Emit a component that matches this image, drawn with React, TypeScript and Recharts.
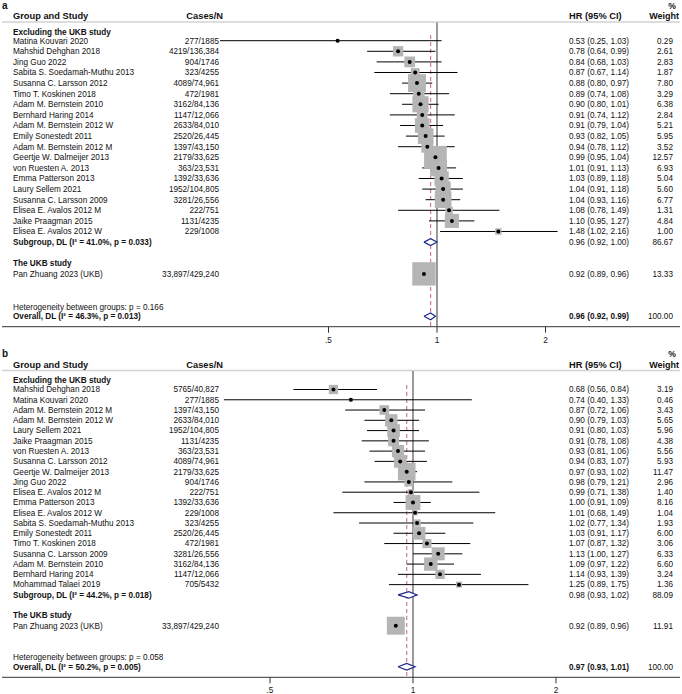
import React from 'react';
import { ScatterChart, Scatter, XAxis, YAxis, ErrorBar, ReferenceLine } from 'recharts';

type Study = { name: string; cases: string; hr: number; lo: number; hi: number; w: number };
type Pooled = { label: string; hr: number; lo: number; hi: number; w: number };

// panel a
const studiesA: Study[] = [
  { name: 'Matina Kouvari 2020', cases: '277/1885', hr: 0.53, lo: 0.25, hi: 1.03, w: 0.29 },
  { name: 'Mahshid Dehghan 2018', cases: '4219/136,384', hr: 0.78, lo: 0.64, hi: 0.99, w: 2.61 },
  { name: 'Jing Guo 2022', cases: '904/1746', hr: 0.84, lo: 0.68, hi: 1.03, w: 2.83 },
  { name: 'Sabita S. Soedamah-Muthu 2013', cases: '323/4255', hr: 0.87, lo: 0.67, hi: 1.14, w: 1.87 },
  { name: 'Susanna C. Larsson 2012', cases: '4089/74,961', hr: 0.88, lo: 0.8, hi: 0.97, w: 7.8 },
  { name: 'Timo T. Koskinen 2018', cases: '472/1981', hr: 0.89, lo: 0.74, hi: 1.08, w: 3.29 },
  { name: 'Adam M. Bernstein 2010', cases: '3162/84,136', hr: 0.9, lo: 0.8, hi: 1.01, w: 6.38 },
  { name: 'Bernhard Haring 2014', cases: '1147/12,066', hr: 0.91, lo: 0.74, hi: 1.12, w: 2.84 },
  { name: 'Adam M. Bernstein 2012 W', cases: '2633/84,010', hr: 0.91, lo: 0.79, hi: 1.04, w: 5.21 },
  { name: 'Emily Sonestedt 2011', cases: '2520/26,445', hr: 0.93, lo: 0.82, hi: 1.05, w: 5.95 },
  { name: 'Adam M. Bernstein 2012 M', cases: '1397/43,150', hr: 0.94, lo: 0.78, hi: 1.12, w: 3.52 },
  { name: 'Geertje W. Dalmeijer 2013', cases: '2179/33,625', hr: 0.99, lo: 0.95, hi: 1.04, w: 12.57 },
  { name: 'von Ruesten A. 2013', cases: '363/23,531', hr: 1.01, lo: 0.91, hi: 1.13, w: 6.93 },
  { name: 'Emma Patterson 2013', cases: '1392/33,636', hr: 1.03, lo: 0.89, hi: 1.18, w: 5.04 },
  { name: 'Laury Sellem 2021', cases: '1952/104,805', hr: 1.04, lo: 0.91, hi: 1.18, w: 5.6 },
  { name: 'Susanna C. Larsson 2009', cases: '3281/26,556', hr: 1.04, lo: 0.93, hi: 1.16, w: 6.77 },
  { name: 'Elisea E. Avalos 2012 M', cases: '222/751', hr: 1.08, lo: 0.78, hi: 1.49, w: 1.31 },
  { name: 'Jaike Praagman 2015', cases: '1131/4235', hr: 1.1, lo: 0.95, hi: 1.27, w: 4.84 },
  { name: 'Elisea E. Avalos 2012 W', cases: '229/1008', hr: 1.48, lo: 1.02, hi: 2.16, w: 1.0 },
];
const ukbA: Study = { name: 'Pan Zhuang 2023 (UKB)', cases: '33,897/429,240', hr: 0.92, lo: 0.89, hi: 0.96, w: 13.33 };
const subgroupA: Pooled = { label: 'Subgroup, DL (I² = 41.0%, p = 0.033)', hr: 0.96, lo: 0.92, hi: 1.0, w: 86.67 };
const overallA: Pooled = { label: 'Overall, DL (I² = 46.3%, p = 0.013)', hr: 0.96, lo: 0.92, hi: 0.99, w: 100 };
const hetA = 'Heterogeneity between groups: p = 0.166';

// panel b
const studiesB: Study[] = [
  { name: 'Mahshid Dehghan 2018', cases: '5765/40,827', hr: 0.68, lo: 0.56, hi: 0.84, w: 3.19 },
  { name: 'Matina Kouvari 2020', cases: '277/1885', hr: 0.74, lo: 0.4, hi: 1.33, w: 0.46 },
  { name: 'Adam M. Bernstein 2012 M', cases: '1397/43,150', hr: 0.87, lo: 0.72, hi: 1.06, w: 3.43 },
  { name: 'Adam M. Bernstein 2012 W', cases: '2633/84,010', hr: 0.9, lo: 0.79, hi: 1.03, w: 5.65 },
  { name: 'Laury Sellem 2021', cases: '1952/104,805', hr: 0.91, lo: 0.8, hi: 1.03, w: 5.96 },
  { name: 'Jaike Praagman 2015', cases: '1131/4235', hr: 0.91, lo: 0.78, hi: 1.08, w: 4.38 },
  { name: 'von Ruesten A. 2013', cases: '363/23,531', hr: 0.93, lo: 0.81, hi: 1.06, w: 5.56 },
  { name: 'Susanna C. Larsson 2012', cases: '4089/74,961', hr: 0.94, lo: 0.83, hi: 1.07, w: 5.93 },
  { name: 'Geertje W. Dalmeijer 2013', cases: '2179/33,625', hr: 0.97, lo: 0.93, hi: 1.02, w: 11.47 },
  { name: 'Jing Guo 2022', cases: '904/1746', hr: 0.98, lo: 0.79, hi: 1.21, w: 2.96 },
  { name: 'Elisea E. Avalos 2012 M', cases: '222/751', hr: 0.99, lo: 0.71, hi: 1.38, w: 1.4 },
  { name: 'Emma Patterson 2013', cases: '1392/33,636', hr: 1.0, lo: 0.91, hi: 1.09, w: 8.16 },
  { name: 'Elisea E. Avalos 2012 W', cases: '229/1008', hr: 1.01, lo: 0.68, hi: 1.49, w: 1.04 },
  { name: 'Sabita S. Soedamah-Muthu 2013', cases: '323/4255', hr: 1.02, lo: 0.77, hi: 1.34, w: 1.93 },
  { name: 'Emily Sonestedt 2011', cases: '2520/26,445', hr: 1.03, lo: 0.91, hi: 1.17, w: 6.0 },
  { name: 'Timo T. Koskinen 2018', cases: '472/1981', hr: 1.07, lo: 0.87, hi: 1.32, w: 3.06 },
  { name: 'Susanna C. Larsson 2009', cases: '3281/26,556', hr: 1.13, lo: 1.0, hi: 1.27, w: 6.33 },
  { name: 'Adam M. Bernstein 2010', cases: '3162/84,136', hr: 1.09, lo: 0.97, hi: 1.22, w: 6.6 },
  { name: 'Bernhard Haring 2014', cases: '1147/12,066', hr: 1.14, lo: 0.93, hi: 1.39, w: 3.24 },
  { name: 'Mohammad Talaei 2019', cases: '705/5432', hr: 1.25, lo: 0.89, hi: 1.75, w: 1.36 },
];
const ukbB: Study = { name: 'Pan Zhuang 2023 (UKB)', cases: '33,897/429,240', hr: 0.92, lo: 0.89, hi: 0.96, w: 11.91 };
const subgroupB: Pooled = { label: 'Subgroup, DL (I² = 44.2%, p = 0.018)', hr: 0.98, lo: 0.93, hi: 1.02, w: 88.09 };
const overallB: Pooled = { label: 'Overall, DL (I² = 50.2%, p = 0.005)', hr: 0.97, lo: 0.93, hi: 1.01, w: 100 };
const hetB = 'Heterogeneity between groups: p = 0.058';

const xTicks = [0.5, 1, 2];

const FONT = '"Liberation Sans", Arial, Helvetica, sans-serif';
const BOX = '#b5b5b5';
const NAVY = '#1f2a8a';
const PINK = '#cc8090';

type Layout = { top: number; row0: number; rowH: number; axis: number; xOne: number; ppd: number; boxK: number; letterY: number; pctY: number; headY: number; ruleY: number; exclY: number; dashY: number };

const layA: Layout = { top: 0, row0: 40.7, rowH: 10.6, axis: 326.7, xOne: 437, ppd: 108.5, boxK: 6.4, letterY: 6, pctY: 5.5, headY: 15.5, ruleY: 22, exclY: 32, dashY: 35 };
const layB: Layout = { top: 345, row0: 389.5, rowH: 10.27, axis: 677.3, xOne: 413, ppd: 143, boxK: 5.2, letterY: 354, pctY: 354, headY: 364.5, ruleY: 370.5, exclY: 380, dashY: 385 };

type Item = { x: number; text: string; anchor?: 'start' | 'end'; bold?: boolean; size?: number };
type TextRow = { row: number; items: Item[] };

const fmtCI = (hr: number, lo: number, hi: number) => `${hr.toFixed(2)} (${lo.toFixed(2)}, ${hi.toFixed(2)})`;
const fmtTick = (v: number) => (v < 1 ? String(v).replace(/^0/, '') : String(v));

const NAME_X = 13;
const CASES_X = 219;
const HR_X = 569;
const W_X = 673;

interface PanelProps {
  letter: string;
  studies: Study[];
  ukb: Study;
  subgroup: Pooled;
  overall: Pooled;
  het: string;
  lay: Layout;
}

const ForestPanel: React.FC<PanelProps> = ({ letter, studies, ukb, subgroup, overall, het, lay }) => {
  const rowOf = (py: number) => (py - lay.row0) / lay.rowH;
  const plotH = lay.axis - lay.top;
  const H = plotH + 18;
  const yMin = rowOf(lay.top);
  const yMax = rowOf(lay.axis);
  const d0 = Math.pow(2, (2 - lay.xOne) / lay.ppd);
  const d1 = Math.pow(2, (680 - lay.xOne) / lay.ppd);

  const n = studies.length;
  const subRow = n;
  const ukbHead = n + 2;
  const ukbRow = n + 3;
  const ovRow = n + 7;
  const hetRow = ovRow - 0.9;

  const texts: TextRow[] = [
    { row: rowOf(lay.letterY), items: [{ x: 2, text: letter, bold: true, size: 10 }] },
    { row: rowOf(lay.pctY), items: [{ x: 676, text: '%', anchor: 'end', bold: true, size: 8.6 }] },
    {
      row: rowOf(lay.headY),
      items: [
        { x: NAME_X, text: 'Group and Study', bold: true, size: 9.3 },
        { x: 223, text: 'Cases/N', anchor: 'end', bold: true, size: 9.3 },
        { x: HR_X, text: 'HR (95% CI)', bold: true, size: 9.3 },
        { x: 679, text: 'Weight', anchor: 'end', bold: true, size: 9.0 },
      ],
    },
    { row: rowOf(lay.exclY), items: [{ x: NAME_X, text: 'Excluding the UKB study', bold: true }] },
    ...studies.map((s, i) => ({
      row: i,
      items: [
        { x: NAME_X, text: s.name },
        { x: CASES_X, text: s.cases, anchor: 'end' as const },
        { x: HR_X, text: fmtCI(s.hr, s.lo, s.hi) },
        { x: W_X, text: s.w.toFixed(2), anchor: 'end' as const },
      ],
    })),
    {
      row: subRow,
      items: [
        { x: NAME_X, text: subgroup.label, bold: true },
        { x: HR_X, text: fmtCI(subgroup.hr, subgroup.lo, subgroup.hi) },
        { x: W_X, text: subgroup.w.toFixed(2), anchor: 'end' },
      ],
    },
    { row: ukbHead, items: [{ x: NAME_X, text: 'The UKB study', bold: true }] },
    {
      row: ukbRow,
      items: [
        { x: NAME_X, text: ukb.name },
        { x: CASES_X, text: ukb.cases, anchor: 'end' },
        { x: HR_X, text: fmtCI(ukb.hr, ukb.lo, ukb.hi) },
        { x: W_X, text: ukb.w.toFixed(2), anchor: 'end' },
      ],
    },
    { row: hetRow, items: [{ x: NAME_X, text: het }] },
    {
      row: ovRow,
      items: [
        { x: NAME_X, text: overall.label, bold: true },
        { x: HR_X, text: fmtCI(overall.hr, overall.lo, overall.hi), bold: true },
        { x: W_X, text: overall.w.toFixed(2), anchor: 'end' },
      ],
    },
  ];

  const points = [...studies.map((s, i) => ({ s, row: i })), { s: ukb, row: ukbRow }].map(({ s, row }) => ({
    x: s.hr,
    y: row,
    w: s.w,
    err: [s.hr - s.lo, s.hi - s.hr],
  }));

  const diamond = (p: Pooled, row: number) => [
    { x: p.lo, y: row },
    { x: p.hr, y: row - 0.32 },
    { x: p.hi, y: row },
    { x: p.hr, y: row + 0.32 },
    { x: p.lo, y: row },
  ];

  // text rows are anchored on y via the y scale; x positions are fixed columns
  const labelData = texts.map((t, i) => ({ x: 1, y: t.row, idx: i }));
  const renderRow = (p: any) => {
    const t = texts[p.payload.idx];
    return (
      <g>
        {t.items.map((it, k) => (
          <text
            key={k}
            x={it.x}
            y={p.cy}
            dy="0.35em"
            textAnchor={it.anchor ?? 'start'}
            fontSize={it.size ?? 8.2}
            fontWeight={it.bold ? 'bold' : 'normal'}
            fontFamily={FONT}
            fill="#111"
          >
            {it.text}
          </text>
        ))}
      </g>
    );
  };

  return (
    <div style={{ position: 'absolute', left: 0, top: lay.top, width: 682, height: H }}>
      <ScatterChart width={682} height={H} margin={{ top: 0, right: 2, bottom: 0, left: 2 }}>
        <XAxis
          type="number"
          dataKey="x"
          scale="log"
          domain={[d0, d1]}
          allowDataOverflow
          ticks={xTicks}
          interval={0}
          tickFormatter={fmtTick}
          height={18}
          tickSize={6}
          tickMargin={4}
          axisLine={{ stroke: '#333' }}
          tickLine={{ stroke: '#333' }}
          tick={{ fontSize: 8.2, fill: '#111', fontFamily: FONT }}
        />
        <YAxis type="number" dataKey="y" domain={[yMin, yMax]} reversed allowDataOverflow width={0} hide />
        <ReferenceLine y={rowOf(lay.ruleY)} stroke="#d2d2d2" strokeWidth={1.5} />
        <ReferenceLine
          segment={[{ x: 1, y: rowOf(lay.ruleY) + 0.05 }, { x: 1, y: yMax }]}
          stroke="#333"
          strokeWidth={1}
        />
        <ReferenceLine
          segment={[{ x: overall.hr, y: rowOf(lay.dashY) }, { x: overall.hr, y: yMax }]}
          stroke={PINK}
          strokeWidth={1.2}
          strokeDasharray="4 3"
        />
        <Scatter data={labelData} isAnimationActive={false} shape={renderRow} />
        <Scatter
          data={points}
          isAnimationActive={false}
          shape={(p: any) => {
            const side = lay.boxK * Math.sqrt(p.payload.w);
            return <rect x={p.cx - side / 2} y={p.cy - side / 2} width={side} height={side} fill={BOX} />;
          }}
        />
        <Scatter
          data={points}
          isAnimationActive={false}
          shape={(p: any) => <circle cx={p.cx} cy={p.cy} r={2} fill="#000" />}
        >
          <ErrorBar dataKey="err" direction="x" width={0} stroke="#000" strokeWidth={1} isAnimationActive={false} />
        </Scatter>
        <Scatter
          data={diamond(subgroup, subRow)}
          isAnimationActive={false}
          line={{ stroke: NAVY, strokeWidth: 1.2, fill: '#fff' }}
          shape={() => <g />}
        />
        <Scatter
          data={diamond(overall, ovRow)}
          isAnimationActive={false}
          line={{ stroke: NAVY, strokeWidth: 1.2, fill: '#fff' }}
          shape={() => <g />}
        />
      </ScatterChart>
    </div>
  );
}

export default function App() {
  return (
    <div style={{ position: 'absolute', left: 0, top: 0, width: 682, height: 694, background: '#fff', overflow: 'hidden' }}>
      <ForestPanel letter="a" studies={studiesA} ukb={ukbA} subgroup={subgroupA} overall={overallA} het={hetA} lay={layA} />
      <ForestPanel letter="b" studies={studiesB} ukb={ukbB} subgroup={subgroupB} overall={overallB} het={hetB} lay={layB} />
    </div>
  );
}
